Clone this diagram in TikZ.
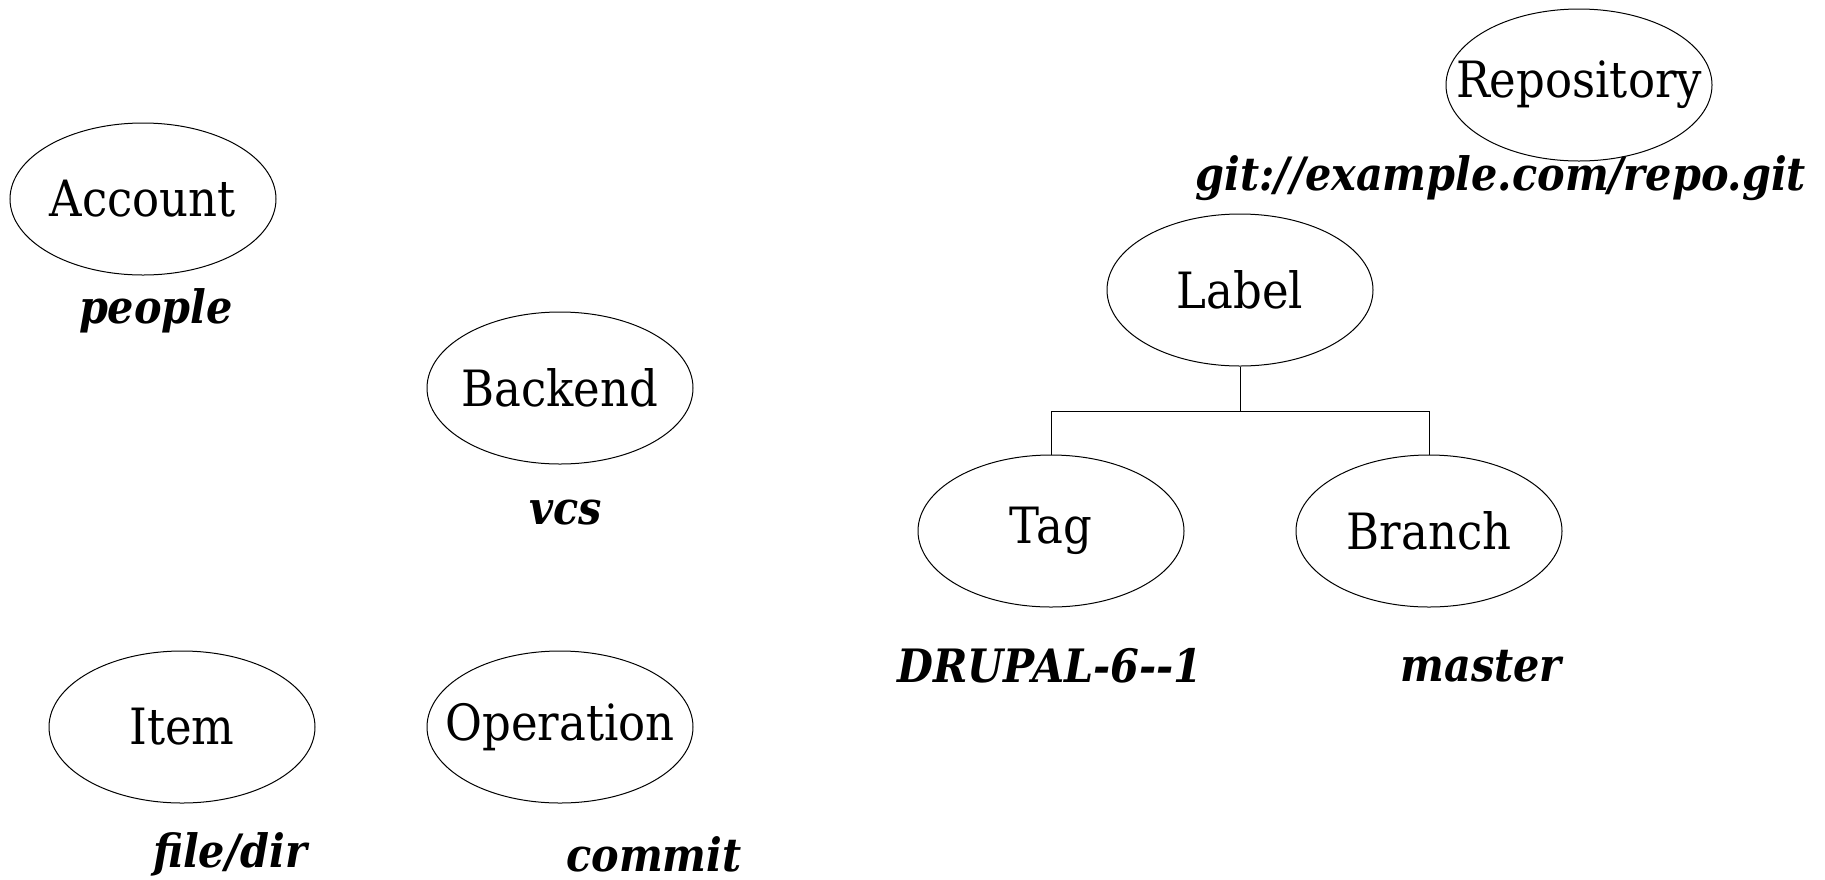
\documentclass[tikz,border=0pt]{standalone}
\usepackage{fontspec}
\setmainfont{DejaVu Serif}[FakeStretch=0.9]
\usetikzlibrary{shapes.geometric}
\begin{document}
\begin{tikzpicture}[x=0.5pt,y=-0.5pt,
  ent/.style={draw, line width=0.5pt, ellipse, minimum width=133pt, minimum height=76pt, inner sep=0pt, font=\fontsize{25}{28}\selectfont},
  lab/.style={font=\fontsize{23}{26}\selectfont\bfseries\itshape, inner sep=0pt}]
\useasboundingbox (0,0) rectangle (1825,879);
\node[ent] (account) at (143,199) {\makebox[0pt]{Account}};
\node[lab] (people) at (156,311) {people};
\node[ent] (backend) at (560,388) {\makebox[0pt]{Backend}};
\node[lab] (vcs) at (566,513) {vcs};
\node[ent] (item) at (182,727) {\makebox[0pt]{Item}};
\node[lab] (filedir) at (230,854) {file/dir};
\node[ent] (operation) at (560,727) {\makebox[0pt]{Operation}};
\node[lab] (commit) at (654,854) {commit};
\node[ent] (repo) at (1579,85) {\makebox[0pt]{Repository}};
\node[lab] (url) at (1501,178) {git://example.com/repo.git};
\node[ent] (label) at (1240,290) {\makebox[0pt]{Label}};
\node[ent] (tag) at (1051,531) {\makebox[0pt]{Tag}};
\node[ent] (branch) at (1429,531) {\makebox[0pt]{Branch}};
\node[lab] (drupal) at (1050,666) {DRUPAL-{}6-{}-{}1};
\node[lab] (master) at (1481,666) {master};
\coordinate (fork) at (1240,411);
\draw[line width=0.5pt] (label.south) -- (fork) -| (tag.north);
\draw[line width=0.5pt] (fork) -| (branch.north);
\end{tikzpicture}
\end{document}
